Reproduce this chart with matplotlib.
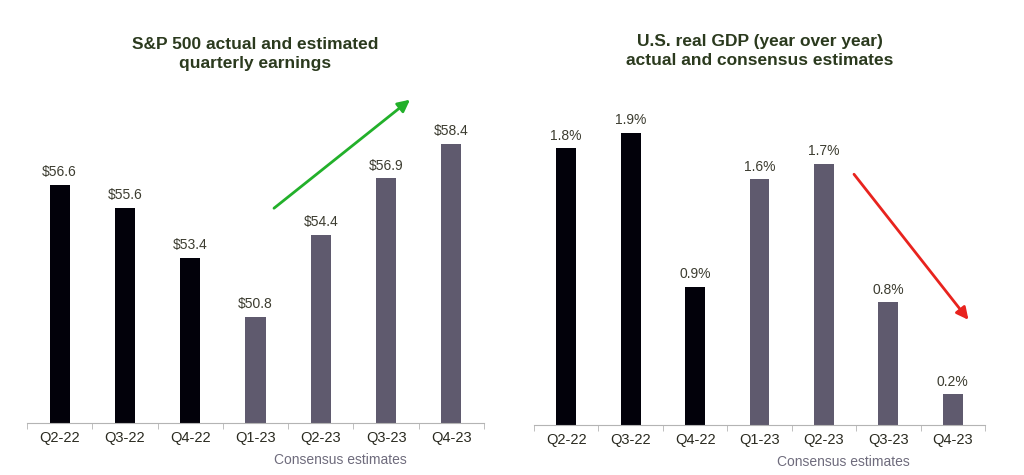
import matplotlib.pyplot as plt

plt.rcParams["font.family"] = ["Liberation Sans", "DejaVu Sans"]

quarters = ["Q2-22", "Q3-22", "Q4-22", "Q1-23", "Q2-23", "Q3-23", "Q4-23"]
actual = [True, True, True, False, False, False, False]
eps = [56.6, 55.6, 53.4, 50.8, 54.4, 56.9, 58.4]
gdp = [1.8, 1.9, 0.9, 1.6, 1.7, 0.8, 0.2]

BLACK = "#02010a"
GREY = "#5f5a6e"
TITLE_C = "#2b3a1e"
LABEL_C = "#3c3c30"
NOTE_C = "#6e6b7c"
AXIS_C = "#b4b4b4"


def draw(ax, vals, fmt, ylim, title, title_y):
    x = range(len(vals))
    colors = [BLACK if a else GREY for a in actual]
    bars = ax.bar(x, [v - ylim[0] for v in vals], bottom=ylim[0], width=0.31, color=colors)
    for b, v in zip(bars, vals):
        ax.annotate(fmt.format(v), (b.get_x() + b.get_width() / 2, v),
                    xytext=(0, 4), textcoords="offset points",
                    ha="center", va="bottom", fontsize=10, color=LABEL_C)
    ax.set_xlim(-0.5, len(vals) - 0.5)
    ax.set_ylim(*ylim)
    for s in ["top", "right", "left"]:
        ax.spines[s].set_visible(False)
    ax.spines["bottom"].set_color(AXIS_C)
    ax.set_yticks([])
    ax.set_xticks(list(x))
    ax.set_xticklabels(quarters, fontsize=10.5, color="#2a2a20")
    ax.tick_params(axis="x", length=0, pad=6)
    ax.set_xticks([i - 0.5 for i in range(len(vals) + 1)], minor=True)
    ax.tick_params(axis="x", which="minor", length=4, color=AXIS_C)
    ax.text(4.3, -0.11, "Consensus estimates", transform=ax.get_xaxis_transform(),
            ha="center", va="center", fontsize=10, color=NOTE_C)
    ax.set_title(title, fontsize=12.5, fontweight="bold", color=TITLE_C, pad=0, y=title_y,
                 linespacing=1.35)


fig = plt.figure(figsize=(10.24, 4.75), dpi=100)
ax1 = fig.add_axes([27 / 1024, 52 / 475, 457 / 1024, 333 / 475])
ax2 = fig.add_axes([534 / 1024, 50 / 475, 451 / 1024, 335 / 475])

draw(ax1, eps, "${:.1f}", (46.14, 60.77), "S&P 500 actual and estimated\nquarterly earnings", 1.065)
draw(ax2, gdp, "{:.1f}%", (0, 2.18), "U.S. real GDP (year over year)\nactual and consensus estimates", 1.075)

ax1.annotate("", xy=(5.4, 60.42), xytext=(3.25, 55.5),
             arrowprops=dict(arrowstyle="-|>", color="#22b02a", lw=2, mutation_scale=18))
ax2.annotate("", xy=(6.27, 0.67), xytext=(4.44, 1.646),
             arrowprops=dict(arrowstyle="-|>", color="#e8231e", lw=2, mutation_scale=18))

fig.savefig("out.png", dpi=100)
